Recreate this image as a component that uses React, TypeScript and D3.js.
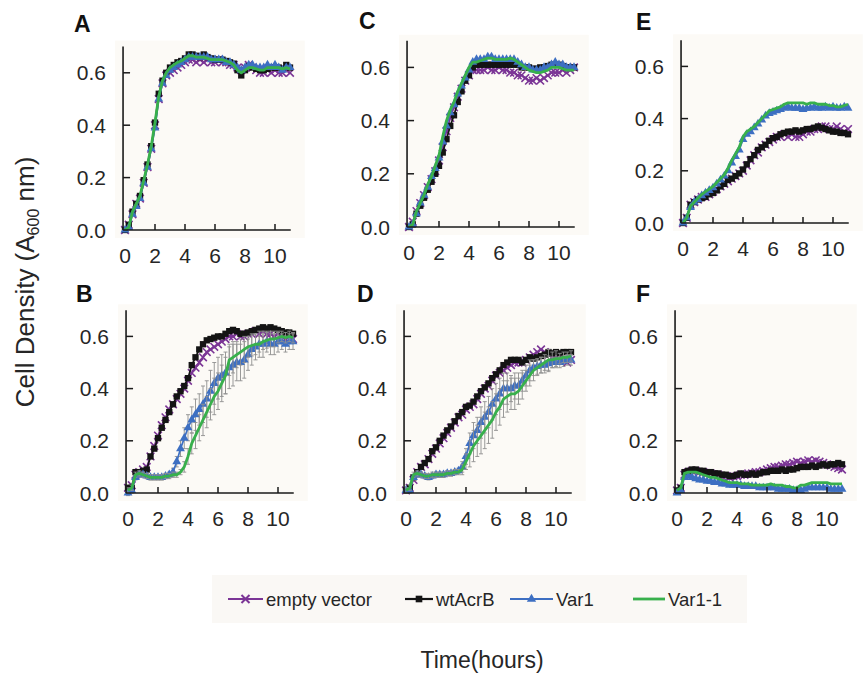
import React from "react";
import * as d3 from "d3";

// ---------- time points (hours) ----------
const TIME = [0,0.25,0.5,0.75,1,1.25,1.5,1.75,2,2.25,2.5,2.75,3,3.25,3.5,3.75,4,4.25,4.5,4.75,5,5.25,5.5,5.75,6,6.25,6.5,6.75,7,7.25,7.5,7.75,8,8.25,8.5,8.75,9,9.25,9.5,9.75,10,10.25,10.5,10.75,11];
const X_TICKS = [0, 2, 4, 6, 8, 10];
const Y_TICKS = [0, 0.2, 0.4, 0.6];

// ---------- Panel A ----------
const A_ev = [0.00,0.02,0.06,0.10,0.12,0.18,0.24,0.31,0.40,0.50, 0.56,0.59,0.60,0.61,0.62,0.63,0.64,0.65,0.65,0.64, 0.65,0.64,0.65,0.64,0.64,0.65,0.64,0.64,0.63,0.63, 0.62,0.61,0.62,0.63,0.62,0.61,0.60,0.60,0.61,0.60, 0.61,0.60,0.60,0.61,0.60];
const A_wt = [0.00,0.02,0.07,0.10,0.13,0.19,0.25,0.32,0.41,0.52, 0.57,0.60,0.62,0.63,0.64,0.645,0.655,0.67,0.67,0.665, 0.66,0.67,0.66,0.655,0.65,0.65,0.65,0.645,0.64,0.635, 0.61,0.59,0.61,0.625,0.62,0.615,0.61,0.61,0.615,0.62, 0.62,0.62,0.615,0.63,0.62];
const A_v1 = [0.00,0.01,0.06,0.09,0.12,0.18,0.24,0.31,0.39,0.50, 0.56,0.59,0.61,0.62,0.63,0.64,0.65,0.66,0.66,0.66, 0.66,0.66,0.66,0.65,0.65,0.65,0.65,0.64,0.64,0.63, 0.62,0.61,0.62,0.63,0.63,0.62,0.62,0.62,0.63,0.62, 0.63,0.62,0.61,0.62,0.62];
const A_v11 = [0.00,0.01,0.07,0.10,0.13,0.19,0.25,0.32,0.41,0.51, 0.57,0.60,0.62,0.63,0.64,0.645,0.655,0.665,0.665,0.66, 0.66,0.66,0.655,0.65,0.65,0.65,0.65,0.645,0.64,0.63, 0.61,0.60,0.61,0.62,0.62,0.615,0.61,0.61,0.62,0.62, 0.62,0.62,0.615,0.62,0.615];

// ---------- Panel B ----------
const B_ev = [0.02,0.03,0.07,0.08,0.09,0.10,0.14,0.18,0.22,0.26, 0.29,0.32,0.34,0.36,0.38,0.40,0.43,0.46,0.48,0.50, 0.52,0.54,0.55,0.56,0.57,0.58,0.59,0.60,0.60,0.61, 0.60,0.60,0.61,0.61,0.62,0.61,0.62,0.61,0.61,0.60, 0.61,0.60,0.59,0.60,0.59];
const B_wt = [0.02,0.02,0.08,0.08,0.085,0.09,0.14,0.17,0.21,0.25, 0.28,0.31,0.34,0.37,0.39,0.41,0.44,0.49,0.52,0.55, 0.57,0.585,0.59,0.595,0.60,0.60,0.61,0.62,0.625,0.62, 0.61,0.61,0.615,0.62,0.625,0.63,0.635,0.63,0.635,0.63, 0.625,0.62,0.615,0.615,0.61];
const B_v1 = [0.00,0.01,0.06,0.07,0.07,0.065,0.06,0.06,0.06,0.06, 0.065,0.07,0.08,0.12,0.17,0.21,0.25,0.28,0.30,0.32, 0.34,0.36,0.39,0.42,0.44,0.45,0.46,0.48,0.49,0.50, 0.50,0.51,0.53,0.55,0.56,0.57,0.57,0.58,0.57,0.57, 0.58,0.58,0.57,0.58,0.58];
const B_v11 = [0.01,0.02,0.07,0.075,0.07,0.065,0.06,0.06,0.06,0.06, 0.065,0.065,0.07,0.07,0.08,0.10,0.14,0.19,0.22,0.25, 0.28,0.31,0.34,0.37,0.39,0.42,0.45,0.51,0.52,0.53, 0.54,0.55,0.56,0.565,0.57,0.57,0.58,0.585,0.59,0.59, 0.595,0.60,0.595,0.60,0.595];
const B_v1_err = [0.01,0.01,0.01,0.01,0.01,0.01,0.01,0.01,0.01,0.01, 0.01,0.01,0.015,0.02,0.03,0.04,0.05,0.05,0.06,0.06, 0.07,0.07,0.08,0.08,0.08,0.08,0.08,0.08,0.08,0.07, 0.07,0.07,0.06,0.06,0.05,0.05,0.05,0.04,0.04,0.04, 0.04,0.03,0.03,0.03,0.03];
const B_v11_err = [0.01,0.01,0.01,0.01,0.01,0.01,0.01,0.01,0.01,0.01, 0.01,0.01,0.01,0.01,0.01,0.02,0.03,0.04,0.05,0.05, 0.06,0.06,0.06,0.07,0.07,0.07,0.07,0.06,0.06,0.05, 0.05,0.05,0.04,0.04,0.04,0.03,0.03,0.03,0.03,0.03, 0.02,0.02,0.02,0.02,0.02];

// ---------- Panel C ----------
const C_ev = [0.00,0.02,0.06,0.09,0.12,0.15,0.18,0.21,0.25,0.30, 0.36,0.41,0.45,0.49,0.52,0.55,0.57,0.59,0.59,0.59, 0.59,0.60,0.59,0.59,0.60,0.59,0.59,0.58,0.58,0.57, 0.57,0.56,0.55,0.55,0.56,0.55,0.56,0.57,0.58,0.58, 0.58,0.59,0.58,0.59,0.60];
const C_wt = [0.00,0.01,0.05,0.08,0.11,0.14,0.17,0.20,0.23,0.28, 0.33,0.38,0.42,0.47,0.51,0.55,0.57,0.60,0.61,0.61, 0.61,0.61,0.61,0.61,0.61,0.61,0.61,0.61,0.61,0.61, 0.60,0.60,0.60,0.595,0.595,0.60,0.60,0.605,0.61,0.61, 0.61,0.605,0.60,0.60,0.60];
const C_v1 = [0.00,0.01,0.05,0.09,0.12,0.15,0.19,0.22,0.26,0.32, 0.38,0.43,0.46,0.50,0.53,0.56,0.59,0.62,0.63,0.63, 0.63,0.64,0.64,0.63,0.63,0.63,0.63,0.63,0.63,0.62, 0.61,0.60,0.60,0.59,0.59,0.59,0.60,0.60,0.61,0.62, 0.61,0.61,0.60,0.60,0.60];
const C_v11 = [0.00,0.01,0.06,0.09,0.12,0.16,0.19,0.23,0.27,0.34, 0.40,0.44,0.47,0.51,0.54,0.57,0.60,0.62,0.62,0.625, 0.63,0.635,0.635,0.63,0.63,0.63,0.63,0.635,0.63,0.62, 0.61,0.60,0.59,0.585,0.58,0.58,0.585,0.59,0.60,0.60, 0.60,0.595,0.59,0.59,0.59];

// ---------- Panel D ----------
const D_ev = [0.01,0.02,0.05,0.08,0.10,0.11,0.13,0.15,0.17,0.19, 0.21,0.23,0.25,0.27,0.29,0.30,0.32,0.33,0.34,0.36, 0.38,0.40,0.41,0.43,0.45,0.46,0.47,0.48,0.49,0.50, 0.50,0.50,0.51,0.52,0.53,0.54,0.55,0.54,0.53,0.52, 0.52,0.51,0.51,0.50,0.51];
const D_wt = [0.01,0.02,0.06,0.08,0.10,0.115,0.13,0.16,0.175,0.20, 0.22,0.24,0.255,0.275,0.295,0.31,0.33,0.335,0.35,0.37, 0.39,0.405,0.42,0.44,0.455,0.47,0.49,0.50,0.51,0.51, 0.51,0.50,0.51,0.52,0.515,0.52,0.525,0.53,0.54,0.535, 0.54,0.535,0.54,0.54,0.54];
const D_v1 = [0.01,0.01,0.06,0.07,0.07,0.065,0.06,0.065,0.07,0.07, 0.07,0.075,0.075,0.08,0.085,0.10,0.14,0.19,0.22,0.24, 0.27,0.29,0.31,0.34,0.36,0.38,0.40,0.40,0.40,0.41, 0.41,0.43,0.45,0.47,0.48,0.485,0.49,0.49,0.495,0.50, 0.50,0.50,0.505,0.51,0.51];
const D_v11 = [0.01,0.02,0.07,0.075,0.07,0.065,0.065,0.07,0.07,0.07, 0.07,0.075,0.075,0.08,0.08,0.09,0.12,0.15,0.18,0.20, 0.22,0.24,0.26,0.28,0.31,0.33,0.36,0.37,0.38,0.38, 0.39,0.41,0.43,0.45,0.47,0.48,0.49,0.50,0.51,0.51, 0.515,0.515,0.52,0.52,0.525];
const D_v1_err = [0.01,0.01,0.01,0.01,0.01,0.01,0.01,0.01,0.01,0.01, 0.01,0.01,0.01,0.01,0.01,0.02,0.03,0.04,0.05,0.05, 0.06,0.06,0.06,0.06,0.06,0.06,0.06,0.06,0.05,0.05, 0.05,0.04,0.04,0.04,0.03,0.03,0.03,0.03,0.03,0.02, 0.02,0.02,0.02,0.02,0.02];
const D_v11_err = [0.01,0.01,0.01,0.01,0.01,0.01,0.01,0.01,0.01,0.01, 0.01,0.01,0.01,0.01,0.01,0.02,0.03,0.05,0.06,0.06, 0.07,0.07,0.07,0.07,0.07,0.07,0.07,0.06,0.06,0.06, 0.05,0.05,0.04,0.04,0.04,0.03,0.03,0.03,0.04,0.03, 0.03,0.02,0.02,0.02,0.02];

// ---------- Panel E ----------
const E_ev = [0.00,0.02,0.07,0.08,0.09,0.10,0.10,0.11,0.12,0.13, 0.14,0.15,0.16,0.17,0.18,0.19,0.20,0.22,0.24,0.26, 0.27,0.29,0.30,0.31,0.32,0.33,0.33,0.34,0.33,0.34, 0.33,0.33,0.34,0.35,0.35,0.36,0.36,0.37,0.37,0.36, 0.36,0.37,0.36,0.35,0.36];
const E_wt = [0.00,0.02,0.07,0.08,0.09,0.095,0.10,0.11,0.115,0.125, 0.14,0.15,0.165,0.17,0.18,0.19,0.205,0.225,0.245,0.26, 0.28,0.29,0.30,0.315,0.325,0.33,0.34,0.345,0.35,0.35, 0.355,0.35,0.355,0.36,0.36,0.365,0.37,0.365,0.36,0.355, 0.35,0.35,0.345,0.345,0.34];
const E_v1 = [0.00,0.02,0.06,0.08,0.09,0.105,0.115,0.125,0.135,0.15, 0.165,0.18,0.20,0.23,0.255,0.28,0.32,0.34,0.35,0.365, 0.38,0.395,0.41,0.42,0.425,0.43,0.435,0.44,0.445,0.44, 0.44,0.44,0.435,0.44,0.44,0.445,0.44,0.44,0.445,0.44, 0.445,0.44,0.44,0.445,0.44];
const E_v11 = [0.00,0.02,0.065,0.08,0.095,0.11,0.12,0.13,0.14,0.155, 0.17,0.185,0.21,0.24,0.265,0.29,0.33,0.35,0.36,0.37, 0.385,0.40,0.415,0.43,0.435,0.44,0.445,0.455,0.46,0.46, 0.46,0.46,0.46,0.455,0.46,0.46,0.455,0.455,0.455,0.45, 0.45,0.445,0.445,0.45,0.455];

// ---------- Panel F ----------
const F_ev = [0.01,0.02,0.07,0.08,0.085,0.085,0.08,0.08,0.075,0.075, 0.07,0.07,0.065,0.065,0.06,0.065,0.065,0.07,0.07,0.075, 0.075,0.08,0.08,0.085,0.09,0.095,0.10,0.10,0.105,0.11, 0.11,0.115,0.12,0.115,0.12,0.125,0.12,0.125,0.12,0.115, 0.11,0.105,0.10,0.095,0.09];
const F_wt = [0.01,0.02,0.08,0.085,0.09,0.09,0.085,0.085,0.08,0.08, 0.075,0.075,0.07,0.07,0.065,0.065,0.07,0.075,0.07,0.07, 0.075,0.07,0.075,0.08,0.08,0.085,0.085,0.085,0.09,0.085, 0.09,0.09,0.095,0.10,0.10,0.10,0.105,0.10,0.105,0.11, 0.105,0.11,0.11,0.115,0.11];
const F_v1 = [0.00,0.01,0.06,0.065,0.06,0.055,0.05,0.05,0.045,0.045, 0.04,0.04,0.035,0.035,0.03,0.03,0.03,0.03,0.025,0.025, 0.025,0.025,0.02,0.02,0.02,0.02,0.02,0.015,0.015,0.015, 0.015,0.01,0.01,0.01,0.015,0.02,0.02,0.02,0.02,0.02, 0.02,0.015,0.015,0.015,0.015];
const F_v11 = [0.01,0.02,0.075,0.08,0.08,0.08,0.075,0.07,0.065,0.06, 0.06,0.055,0.05,0.045,0.04,0.04,0.04,0.035,0.035,0.035, 0.03,0.03,0.03,0.03,0.03,0.035,0.03,0.03,0.03,0.025, 0.025,0.02,0.02,0.03,0.03,0.035,0.04,0.04,0.04,0.04, 0.04,0.035,0.035,0.035,0.035];

// ---------- series ----------
const SERIES = [
  { key: "ev", name: "empty vector", color: "#7b3596", marker: "x" },
  { key: "wt", name: "wtAcrB", color: "#141414", marker: "square" },
  { key: "v1", name: "Var1", color: "#3d6fc2", marker: "triangle" },
  { key: "v11", name: "Var1-1", color: "#38b04c", marker: "none" },
];

const PANEL_IDS = ["A", "B", "C", "D", "E", "F"];
const PANEL_DATA: Record<string, Record<string, number[]>> = {
  A: { ev: A_ev, wt: A_wt, v1: A_v1, v11: A_v11 },
  B: { ev: B_ev, wt: B_wt, v1: B_v1, v11: B_v11 },
  C: { ev: C_ev, wt: C_wt, v1: C_v1, v11: C_v11 },
  D: { ev: D_ev, wt: D_wt, v1: D_v1, v11: D_v11 },
  E: { ev: E_ev, wt: E_wt, v1: E_v1, v11: E_v11 },
  F: { ev: F_ev, wt: F_wt, v1: F_v1, v11: F_v11 },
};
const PANEL_ERR: Record<string, Record<string, number[]>> = {
  B: { v1: B_v1_err, v11: B_v11_err },
  D: { v1: D_v1_err, v11: D_v11_err },
};

// layout: ox = pixel of t=0, oy = pixel of A=0, k = px per unit
const LAYOUT: Record<string, { ox: number; oy: number; k: number; lx: number; ly: number }> = {
  A: { ox: 125, oy: 230, k: 262, lx: 74, ly: 32 },
  B: { ox: 128, oy: 493, k: 261, lx: 76, ly: 302 },
  C: { ox: 409, oy: 227, k: 266, lx: 359, ly: 29 },
  D: { ox: 406, oy: 493, k: 261, lx: 357, ly: 302 },
  E: { ox: 683, oy: 223, k: 261, lx: 636, ly: 30 },
  F: { ox: 677, oy: 493, k: 261, lx: 636, ly: 302 },
};

const FONT = "'Liberation Sans', Arial, Helvetica, sans-serif";
const TEXT = "#262626";

function markerPath(type: string, scale = 1): string | null {
  if (type === "square") return d3.symbol(d3.symbolSquare, 40 * scale)() as string;
  if (type === "triangle") return d3.symbol(d3.symbolTriangle, 34 * scale)() as string;
  if (type === "x") return d3.symbol((d3 as any).symbolTimes || d3.symbolCross, 40 * scale)() as string;
  return null;
}

function Panel({ id }: { id: string }) {
  const L = LAYOUT[id];
  const x = d3.scaleLinear().domain([0, 11]).range([L.ox, L.ox + 165]);
  const y = d3.scaleLinear().domain([0, 0.7]).range([L.oy, L.oy - 0.7 * L.k]);
  const data = PANEL_DATA[id];
  const errs = PANEL_ERR[id] || {};
  const line = d3
    .line<number>()
    .x((_, i) => x(TIME[i]))
    .y((v) => y(v));
  const axisLeft = x(-0.13);
  const axisRight = x(11.05);

  return (
    <g>
      <rect x={axisLeft - 8} y={y(0.7) - 6} width={axisRight - axisLeft + 22} height={L.oy - y(0.7) + 14} fill="#fcfaf6" />
      {SERIES.map((s) => {
        const vals = data[s.key];
        const err = errs[s.key];
        const mp = markerPath(s.marker);
        const isStroke = s.marker === "x";
        return (
          <g key={s.key}>
            {err &&
              vals.map((v, i) => {
                const cx = x(TIME[i]);
                return (
                  <g key={"e" + i} stroke="#8f8f8f" strokeWidth={0.9}>
                    <line x1={cx} x2={cx} y1={y(v - err[i])} y2={y(v + err[i])} />
                    <line x1={cx - 2} x2={cx + 2} y1={y(v + err[i])} y2={y(v + err[i])} />
                    <line x1={cx - 2} x2={cx + 2} y1={y(v - err[i])} y2={y(v - err[i])} />
                  </g>
                );
              })}
            <path d={line(vals) || ""} fill="none" stroke={s.color} strokeWidth={s.key === "v11" ? 2.8 : 1.7} strokeLinejoin="round" />
            {mp &&
              vals.map((v, i) => (
                <path
                  key={i}
                  d={mp}
                  transform={`translate(${x(TIME[i])},${y(v)})`}
                  fill={isStroke ? "none" : s.color}
                  stroke={isStroke ? s.color : "none"}
                  strokeWidth={isStroke ? 1.6 : 0}
                />
              ))}
          </g>
        );
      })}
      {/* axes */}
      <line x1={axisLeft} x2={axisRight} y1={L.oy} y2={L.oy} stroke="#1a1a1a" strokeWidth={1.6} />
      <line x1={axisLeft} x2={axisLeft} y1={L.oy} y2={y(0.7)} stroke="#1a1a1a" strokeWidth={1.6} />
      {X_TICKS.map((t) => (
        <g key={"xt" + t}>
          {t > 0 && <line x1={x(t)} x2={x(t)} y1={L.oy} y2={L.oy - 6} stroke="#1a1a1a" strokeWidth={1.5} />}
          <text x={x(t)} y={L.oy + 33} textAnchor="middle" fontFamily={FONT} fontSize={21} fill={TEXT}>
            {t}
          </text>
        </g>
      ))}
      {Y_TICKS.map((t) => (
        <g key={"yt" + t}>
          {t > 0 && <line x1={axisLeft} x2={axisLeft + 7} y1={y(t)} y2={y(t)} stroke="#1a1a1a" strokeWidth={1.5} />}
          <text x={axisLeft - 17} y={y(t)} dy="0.36em" textAnchor="end" fontFamily={FONT} fontSize={21} fill={TEXT}>
            {d3.format(".1f")(t)}
          </text>
        </g>
      ))}
      <text x={L.lx} y={L.ly} fontFamily={FONT} fontSize={23} fontWeight="bold" fill="#111">
        {id}
      </text>
    </g>
  );
}

const LEGEND_POS = [
  { x1: 228, x2: 263 },
  { x1: 405, x2: 433 },
  { x1: 510, x2: 553 },
  { x1: 633, x2: 665 },
];

export default function App() {
  const ly = 599;
  return (
    <svg width={865} height={674} style={{ position: "absolute", left: 0, top: 0, background: "#ffffff" }}>
      <rect x={0} y={0} width={865} height={674} fill="#ffffff" />
      {PANEL_IDS.map((id) => (
        <Panel key={id} id={id} />
      ))}
      <text
        transform="translate(34,282) rotate(-90)"
        textAnchor="middle"
        fontFamily={FONT}
        fontSize={26}
        fill={TEXT}
      >
        Cell Density (A<tspan fontSize={16} dy={5}>600</tspan>
        <tspan dy={-5}> nm)</tspan>
      </text>
      <text x={482} y={668} textAnchor="middle" fontFamily={FONT} fontSize={23} fill={TEXT}>
        Time(hours)
      </text>
      <rect x={212} y={575} width={535} height={48} fill="#faf8f5" />
      {SERIES.map((s, i) => {
        const p = LEGEND_POS[i];
        const mp = markerPath(s.marker, 1.1);
        const isStroke = s.marker === "x";
        const cx = (p.x1 + p.x2) / 2;
        return (
          <g key={s.key}>
            <line x1={p.x1} x2={p.x2} y1={ly} y2={ly} stroke={s.color} strokeWidth={s.key === "v11" ? 2.8 : 2.2} />
            {mp && (
              <path
                d={mp}
                transform={`translate(${cx},${ly})`}
                fill={isStroke ? "none" : s.color}
                stroke={isStroke ? s.color : "none"}
                strokeWidth={isStroke ? 2 : 0}
              />
            )}
            <text x={p.x2 + 3} y={ly} dy="0.36em" fontFamily={FONT} fontSize={18.5} fill={TEXT}>
              {s.name}
            </text>
          </g>
        );
      })}
    </svg>
  );
}
